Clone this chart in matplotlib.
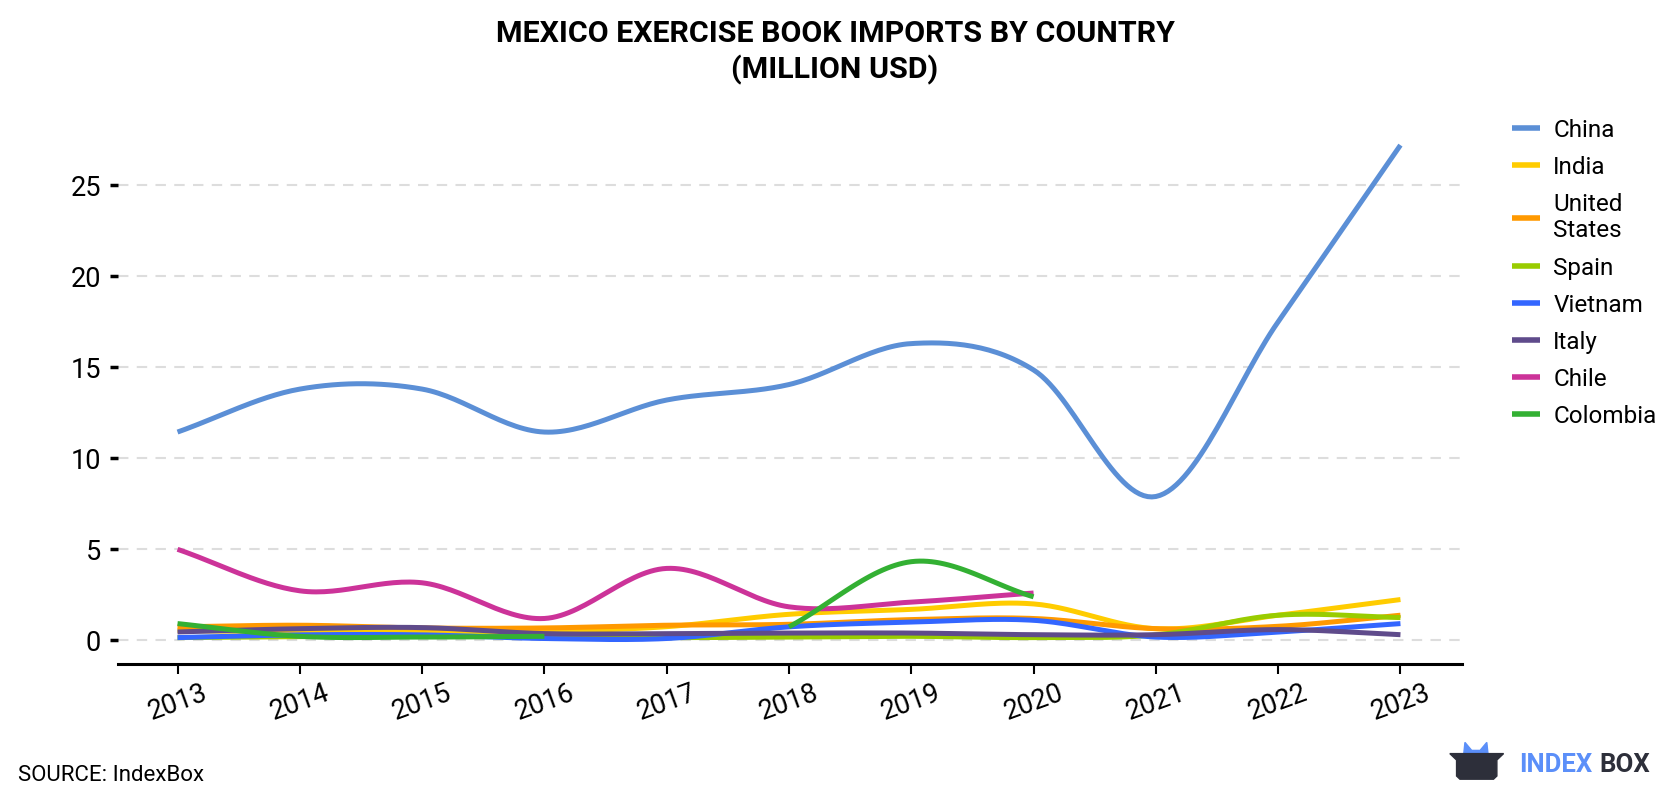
import numpy as np
import matplotlib
matplotlib.use("Agg")
import matplotlib.pyplot as plt
from matplotlib.patches import Polygon

plt.rcParams['font.family'] = ['Roboto', 'DejaVu Sans']

years = [2013, 2014, 2015, 2016, 2017, 2018, 2019, 2020, 2021, 2022, 2023]
china = [11.44, 13.8, 13.8, 11.44, 13.2, 14.05, 16.3, 14.85, 7.9, 17.5, 27.2]
india = [0.55, 0.45, 0.5, 0.5, 0.75, 1.43, 1.7, 2.0, 0.64, 1.38, 2.24]
united_states = [0.74, 0.83, 0.68, 0.68, 0.83, 0.88, 1.14, 1.2, 0.64, 0.77, 1.38]
spain = [0.15, 0.2, 0.25, 0.2, 0.15, 0.18, 0.22, 0.15, 0.3, 1.38, 1.25]
vietnam = [0.15, 0.3, 0.3, 0.1, 0.1, 0.74, 1.0, 1.1, 0.18, 0.46, 0.92]
italy = [0.46, 0.64, 0.7, 0.37, 0.37, 0.4, 0.4, 0.31, 0.31, 0.59, 0.31]
chile_years = [2013, 2014, 2015, 2016, 2017, 2018, 2019, 2020]
chile = [5.0, 2.72, 3.16, 1.2, 3.95, 1.84, 2.1, 2.6]
colombia_years_a = [2013, 2014, 2015, 2016]
colombia_a = [0.92, 0.22, 0.18, 0.22]
colombia_years_b = [2018, 2019, 2020]
colombia_b = [0.74, 4.32, 2.39]

series = [
    ("China", years, china, "#5b8fd6"),
    ("India", years, india, "#ffcc00"),
    ("United\nStates", years, united_states, "#ff9900"),
    ("Spain", years, spain, "#99cc00"),
    ("Vietnam", years, vietnam, "#3366ff"),
    ("Italy", years, italy, "#5f4b8b"),
    ("Chile", chile_years, chile, "#cc3399"),
]


def smooth(xs, ys, n=30):
    xs = np.asarray(xs, float)
    ys = np.asarray(ys, float)
    if len(xs) < 3:
        return xs, ys
    px = np.concatenate([[2 * xs[0] - xs[1]], xs, [2 * xs[-1] - xs[-2]]])
    py = np.concatenate([[2 * ys[0] - ys[1]], ys, [2 * ys[-1] - ys[-2]]])
    ox, oy = [], []
    t = np.linspace(0, 1, n, endpoint=False)
    for i in range(1, len(px) - 2):
        p0, p1, p2, p3 = py[i - 1], py[i], py[i + 1], py[i + 2]
        x1, x2 = px[i], px[i + 1]
        yy = 0.5 * ((2 * p1) + (-p0 + p2) * t + (2 * p0 - 5 * p1 + 4 * p2 - p3) * t ** 2
                    + (-p0 + 3 * p1 - 3 * p2 + p3) * t ** 3)
        ox.append(x1 + (x2 - x1) * t)
        oy.append(yy)
    ox.append([xs[-1]])
    oy.append([ys[-1]])
    return np.concatenate(ox), np.concatenate(oy)


fig = plt.figure(figsize=(16.8, 8), dpi=100)
ax = fig.add_axes([0.070, 0.170, 0.800, 0.685])

handles = []
for name, xs, ys, col in series:
    sx, sy = smooth(xs, ys)
    h, = ax.plot(sx, sy, color=col, lw=3.6, label=name, solid_capstyle='butt')
    handles.append(h)
col_c = "#33b033"
for xs, ys in [(colombia_years_a, colombia_a), (colombia_years_b, colombia_b)]:
    sx, sy = smooth(xs, ys)
    h, = ax.plot(sx, sy, color=col_c, lw=3.6, label="Colombia", solid_capstyle='butt')
handles.append(h)

ax.set_xlim(2012.51, 2023.5)
ax.set_ylim(-1.3, 28.8)
ax.set_yticks([0, 5, 10, 15, 20, 25])
ax.set_xticks(years)
ax.set_xticklabels([str(y) for y in years], rotation=20, fontsize=19.5)
ax.tick_params(axis='y', labelsize=19.5, length=6, width=2.5, pad=6)
ax.tick_params(axis='x', length=7, width=1.5, pad=4)
ax.yaxis.grid(True, linestyle=(0, (5, 4)), color='#dddddd', lw=1.5)
ax.set_axisbelow(True)
for s in ['top', 'right', 'left']:
    ax.spines[s].set_visible(False)
ax.spines['bottom'].set_linewidth(2.2)

leg = fig.legend(handles=handles, loc='upper left', bbox_to_anchor=(0.887, 0.879),
                 frameon=False, fontsize=17.5, handlelength=1.15, handletextpad=0.55,
                 labelspacing=0.58)
for l in leg.get_lines():
    l.set_linewidth(4)

fig.text(0.497, 0.975, "MEXICO EXERCISE BOOK IMPORTS BY COUNTRY\n(MILLION USD)",
         ha='center', va='top', fontsize=21.9, fontweight='bold', linespacing=1.3)
fig.text(0.011, 0.018, "SOURCE: IndexBox", fontsize=16, ha='left', va='bottom')

# logo
lax = fig.add_axes([0.862, 0.02, 0.034, 0.06])
lax.set_xlim(0, 34)
lax.set_ylim(0, 30)
lax.axis('off')
lax.add_patch(Polygon([[9, 16], [10, 26], [14, 21], [19, 21], [23, 26], [24, 16]],
                      closed=True, color='#5b8ff9'))
lax.add_patch(Polygon([[1, 19], [33, 19], [29, 15], [29, 5], [27, 3], [7, 3], [5, 5], [5, 15]],
                      closed=True, color='#2d2f3a'))
fig.text(0.904, 0.044, "INDEX", color='#5b8ff9', fontsize=18.5, fontweight='bold', ha='left', va='center')
fig.text(0.982, 0.044, "BOX", color='#2d2f3a', fontsize=18.5, fontweight='bold', ha='right', va='center')

fig.savefig("out.png", dpi=100)
